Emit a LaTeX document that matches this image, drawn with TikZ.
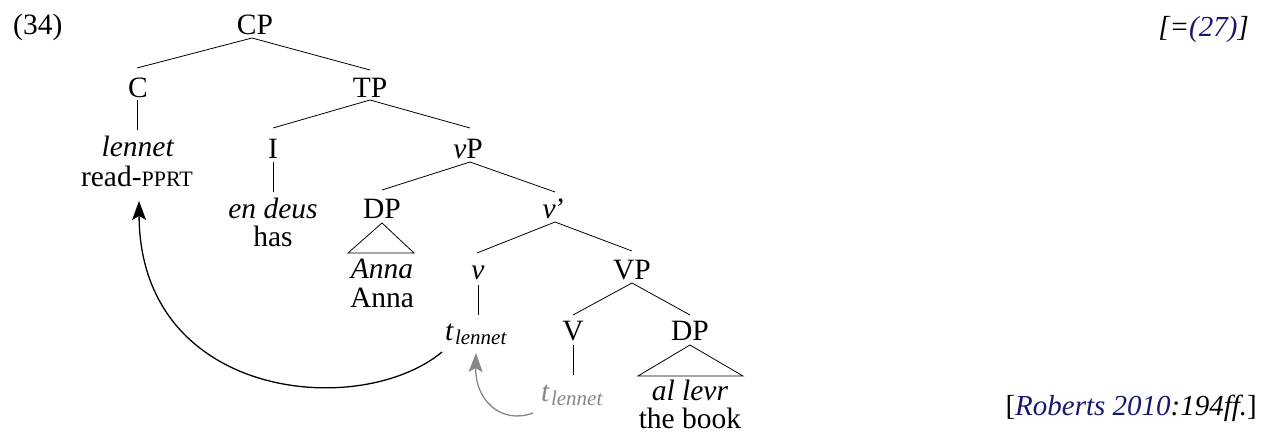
\documentclass[tikz,border=0pt]{standalone}
\usepackage{fontspec}
\setmainfont{Liberation Serif}
\usetikzlibrary{calc,arrows.meta}
\definecolor{linkblue}{RGB}{25,25,112}
\definecolor{tracegray}{RGB}{135,135,135}
\newcommand{\smc}[1]{{\fontsize{22}{22}\selectfont #1}}
\newcommand{\trace}{\textit{t}\kern1pt\raisebox{-4pt}{\fontsize{21}{21}\selectfont\textit{lennet}}}
\begin{document}
\begin{tikzpicture}[x=1pt,y=-1pt,
  every node/.style={inner sep=0pt,anchor=base,font=\fontsize{29.5}{30}\selectfont},
  edge/.style={line width=0.8pt},
  tri/.style={line width=0.8pt},
  mvarrow/.style={line width=1.3pt,-{Stealth[length=19pt,width=14pt,inset=4pt]}},
  grayarrow/.style={line width=1.3pt,draw=tracegray,-{Stealth[length=19pt,width=14pt,inset=4pt]}}
]
\useasboundingbox (0,0) rectangle (1270,436);
% labels
\node[anchor=base west] (ex) at (13,35) {(34)};
\node[anchor=base east,font=\fontsize{29}{30}\selectfont] (ref) at (1249,37) {\textit{[=\textcolor{linkblue}{(27)}]}};
\node[anchor=base east,font=\fontsize{29}{30}\selectfont] (src) at (1257,415) {[\textit{\textcolor{linkblue}{Roberts 2010}:194ff.}]};
% tree nodes
\node (CP) at (255,35) {CP};
\node (C) at (138,97) {C};
\node (TP) at (370,97) {TP};
\node (len) at (138,157) {\textit{lennet}};
\node (read) at (137,186) {read-\smc{PPRT}};
\node (I) at (273,158) {I};
\node (vP) at (468,158) {\textit{v}P};
\node (endeus) at (273,218) {\textit{en deus}};
\node (has) at (273,246) {has};
\node (DP1) at (382,218) {DP};
\node (vbar) at (554,218) {\textit{v}’};
\node (anna1) at (382,278) {\textit{Anna}};
\node (anna2) at (382,307) {Anna};
\node (v) at (478,279) {\textit{v}};
\node (VP) at (632,279) {VP};
\node (t1) at (476,340) {\trace};
\node (V) at (573,340) {V};
\node (DP2) at (690,340) {DP};
\node[text=tracegray] (t2) at (572,401) {\trace};
\node (allevr) at (690,400) {\textit{al levr}};
\node (book) at (690,428) {the book};
% branches
\draw[edge] ($(CP.base)+(-3,3)$) -- ($(C.base)+(-1,-29)$);
\draw[edge] ($(CP.base)+(-3,3)$) -- ($(TP.base)+(0,-27)$);
\draw[edge] ($(C.base)+(-1,3)$) -- ($(len.base)+(-1,-27)$);
\draw[edge] ($(TP.base)+(0,3)$) -- ($(I.base)+(0,-30)$);
\draw[edge] ($(TP.base)+(0,3)$) -- ($(vP.base)+(2,-30)$);
\draw[edge] ($(I.base)+(0,4)$) -- ($(endeus.base)+(0,-26)$);
\draw[edge] ($(vP.base)+(2,4)$) -- ($(DP1.base)+(0,-28)$);
\draw[edge] ($(vP.base)+(2,4)$) -- ($(vbar.base)+(1,-26)$);
\draw[edge] ($(vbar.base)+(1,4)$) -- ($(v.base)+(-1,-26)$);
\draw[edge] ($(vbar.base)+(1,4)$) -- ($(VP.base)+(0,-28)$);
\draw[edge] ($(v.base)+(0,6)$) -- ($(t1.base)+(2,-25)$);
\draw[edge] ($(VP.base)+(0,4)$) -- ($(V.base)+(0,-25)$);
\draw[edge] ($(VP.base)+(0,4)$) -- ($(DP2.base)+(0,-25)$);
\draw[edge] ($(V.base)+(0,5)$) -- ($(t2.base)+(1,-26)$);
% triangles
\draw[tri] ($(DP1.base)+(0,5)$) -- ($(anna1.base)+(-34,-25)$) -- ($(anna1.base)+(32,-25)$) -- cycle;
\draw[tri] ($(DP2.base)+(0,5)$) -- ($(allevr.base)+(-52,-24)$) -- ($(allevr.base)+(53,-24)$) -- cycle;
% movement arrows
\coordinate (mvstart) at ($(t1.base)+(-34,12)$);
\coordinate (mvend) at ($(read.base)+(2,15)$);
\draw[mvarrow] (mvstart) .. controls ($(mvstart)+(-82,68)$) and ($(mvend)+(1,199)$) .. (mvend);
\coordinate (gstart) at ($(t2.base)+(-39,12)$);
\coordinate (gend) at ($(t1.base)+(0,13)$);
\draw[grayarrow] (gstart) .. controls ($(gstart)+(-33,12)$) and ($(gend)+(-1,46)$) .. (gend);
\end{tikzpicture}
\end{document}
